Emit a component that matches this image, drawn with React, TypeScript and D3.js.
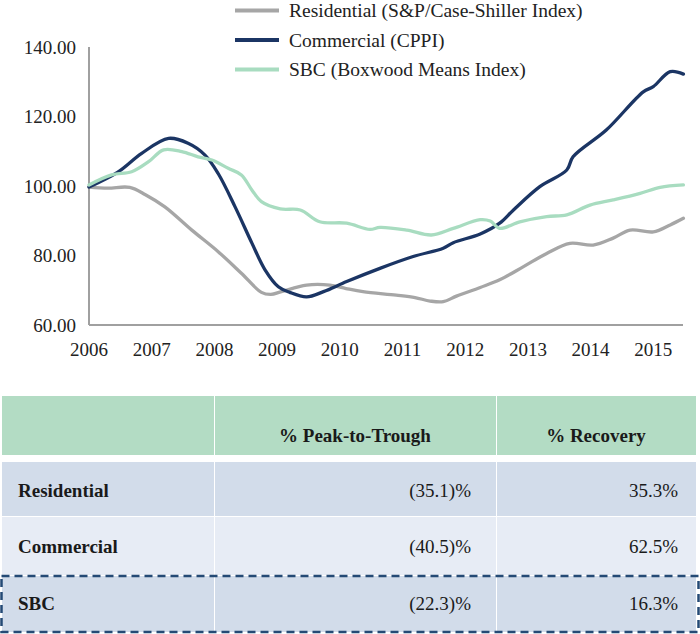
import React from "react";
import * as d3 from "d3";

// ---------- Data ----------
const yearTicks = [2006, 2007, 2008, 2009, 2010, 2011, 2012, 2013, 2014, 2015];
const valueTicks = [60, 80, 100, 120, 140];

const residentialT = [2006.0, 2006.3, 2006.65, 2006.9, 2007.21, 2007.64, 2008.06, 2008.43, 2008.75, 2008.9, 2009.07, 2009.47, 2009.84, 2010.1, 2010.37, 2010.9, 2011.2, 2011.44, 2011.65, 2011.86, 2012.24, 2012.55, 2012.93, 2013.3, 2013.67, 2014.04, 2014.36, 2014.63, 2015.0, 2015.27, 2015.48];
const residentialV = [99.7, 99.4, 99.6, 97.5, 94.0, 87.3, 81.1, 74.9, 69.4, 68.8, 69.6, 71.5, 71.5, 70.5, 69.6, 68.6, 67.9, 66.9, 66.7, 68.3, 70.8, 73.0, 76.8, 80.6, 83.5, 83.0, 85.0, 87.3, 86.8, 88.8, 90.7];

const commercialT = [2006.0, 2006.46, 2006.84, 2007.27, 2007.58, 2007.85, 2008.06, 2008.33, 2008.6, 2008.81, 2009.02, 2009.2, 2009.47, 2009.74, 2010.11, 2010.64, 2011.17, 2011.65, 2011.81, 2012.24, 2012.55, 2012.77, 2013.19, 2013.62, 2013.72, 2014.25, 2014.84, 2015.0, 2015.27, 2015.48];
const commercialV = [99.7, 104.0, 109.4, 113.7, 112.3, 108.9, 103.6, 94.0, 83.5, 75.8, 71.0, 69.4, 68.1, 69.6, 72.5, 76.3, 79.7, 82.1, 83.7, 86.2, 89.3, 93.1, 99.8, 104.6, 108.4, 116.1, 127.1, 128.6, 132.9, 132.2];

const sbcT = [2006.0, 2006.36, 2006.68, 2006.95, 2007.19, 2007.48, 2007.74, 2007.96, 2008.22, 2008.43, 2008.6, 2008.75, 2009.05, 2009.37, 2009.68, 2010.11, 2010.48, 2010.64, 2011.07, 2011.46, 2011.81, 2012.24, 2012.4, 2012.55, 2012.87, 2013.3, 2013.62, 2013.99, 2014.36, 2014.79, 2015.11, 2015.48];
const sbcV = [100.3, 103.2, 104.1, 107.0, 110.4, 109.9, 108.4, 107.5, 105.1, 103.2, 98.8, 95.5, 93.4, 93.1, 89.7, 89.3, 87.5, 88.1, 87.3, 85.9, 87.8, 90.3, 89.9, 87.8, 89.7, 91.2, 91.7, 94.5, 96.0, 97.9, 99.6, 100.3];

const seriesNames = ["Residential (S&P/Case-Shiller Index)", "Commercial (CPPI)", "SBC (Boxwood Means Index)"];
const seriesColors = ["#a6a6a6", "#1b3564", "#a8dcc0"];

const tableHeaders = ["", "% Peak-to-Trough", "% Recovery"];
const rowLabels = ["Residential", "Commercial", "SBC"];
const peakToTrough = ["(35.1)%", "(40.5)%", "(22.3)%"];
const recovery = ["35.3%", "62.5%", "16.3%"];

// ---------- Component ----------
export default function App() {
  const W = 700, H = 634;
  const x = d3.scaleLinear().domain([2006, 2015]).range([89, 653.3]);
  const y = d3.scaleLinear().domain([60, 140]).range([325, 47]);
  const line = d3
    .line<[number, number]>()
    .x((d) => x(d[0]))
    .y((d) => y(d[1]))
    .curve(d3.curveCatmullRom.alpha(0.5));

  const series = [
    d3.zip(residentialT, residentialV) as [number, number][],
    d3.zip(commercialT, commercialV) as [number, number][],
    d3.zip(sbcT, sbcV) as [number, number][],
  ];

  const font = "'Liberation Serif', 'Times New Roman', serif";
  const xEnd = 683;

  // table geometry
  const colEdges = [2, 214, 496, 696];
  const headerY = [396, 455];
  const rowY = [
    [462, 516],
    [517, 575],
    [576, 632],
  ];
  const rowFill = ["#d2dcea", "#e7ecf5", "#d2dcea"];
  const rowBase = [497, 553, 610];

  return (
    <svg
      width={W}
      height={H}
      style={{ position: "absolute", left: 0, top: 0, background: "#fff" }}
      fontFamily={font}
    >
      {/* axes */}
      <line x1={89} x2={89} y1={y(140)} y2={y(60)} stroke="#a0a0a0" strokeWidth={2} />
      <line x1={89} x2={xEnd} y1={y(60)} y2={y(60)} stroke="#a0a0a0" strokeWidth={2} />
      {valueTicks.map((v) => (
        <text key={v} x={76} y={y(v)} dy="0.35em" textAnchor="end" fontSize={19} fill="#222">
          {v.toFixed(2)}
        </text>
      ))}
      {yearTicks.map((t) => (
        <text key={t} x={x(t)} y={356} textAnchor="middle" fontSize={19} fill="#222">
          {t}
        </text>
      ))}

      {/* lines */}
      {series.map((s, i) => (
        <path
          key={i}
          d={line(s) || ""}
          fill="none"
          stroke={seriesColors[i]}
          strokeWidth={3.3}
          strokeLinejoin="round"
          strokeLinecap="round"
        />
      ))}

      {/* legend */}
      {seriesNames.map((n, i) => (
        <g key={n} transform={`translate(0, ${10.5 + i * 29.5})`}>
          <line x1={235} x2={279} y1={0} y2={0} stroke={seriesColors[i]} strokeWidth={4} />
          <text x={289} y={0} dy="0.35em" fontSize={19.5} fill="#222">
            {n}
          </text>
        </g>
      ))}

      {/* table header */}
      {[0, 1, 2].map((c) => (
        <rect
          key={"h" + c}
          x={colEdges[c] + (c === 0 ? 0 : 1)}
          y={headerY[0]}
          width={colEdges[c + 1] - colEdges[c] - (c === 0 ? 0 : 1)}
          height={headerY[1] - headerY[0]}
          fill="#b3dcc4"
        />
      ))}
      <text x={(colEdges[1] + colEdges[2]) / 2} y={442} textAnchor="middle" fontSize={19} fontWeight="bold" fill="#1a1a1a">
        {tableHeaders[1]}
      </text>
      <text x={(colEdges[2] + colEdges[3]) / 2} y={442} textAnchor="middle" fontSize={19} fontWeight="bold" fill="#1a1a1a">
        {tableHeaders[2]}
      </text>

      {/* table rows */}
      {rowLabels.map((lab, r) => (
        <g key={lab}>
          {[0, 1, 2].map((c) => (
            <rect
              key={c}
              x={colEdges[c] + (c === 0 ? 0 : 1)}
              y={rowY[r][0]}
              width={colEdges[c + 1] - colEdges[c] - (c === 0 ? 0 : 1)}
              height={rowY[r][1] - rowY[r][0]}
              fill={rowFill[r]}
            />
          ))}
          <text x={18} y={rowBase[r]} fontSize={19} fontWeight="bold" fill="#1a1a1a">
            {lab}
          </text>
          <text x={471} y={rowBase[r]} textAnchor="end" fontSize={19} fill="#1a1a1a">
            {peakToTrough[r]}
          </text>
          <text x={678} y={rowBase[r]} textAnchor="end" fontSize={19} fill="#1a1a1a">
            {recovery[r]}
          </text>
        </g>
      ))}

      {/* dashed highlight around SBC row */}
      <rect
        x={1.5}
        y={576}
        width={697}
        height={56}
        fill="none"
        stroke="#244a75"
        strokeWidth={2.5}
        strokeDasharray="8,5"
      />
    </svg>
  );
}
